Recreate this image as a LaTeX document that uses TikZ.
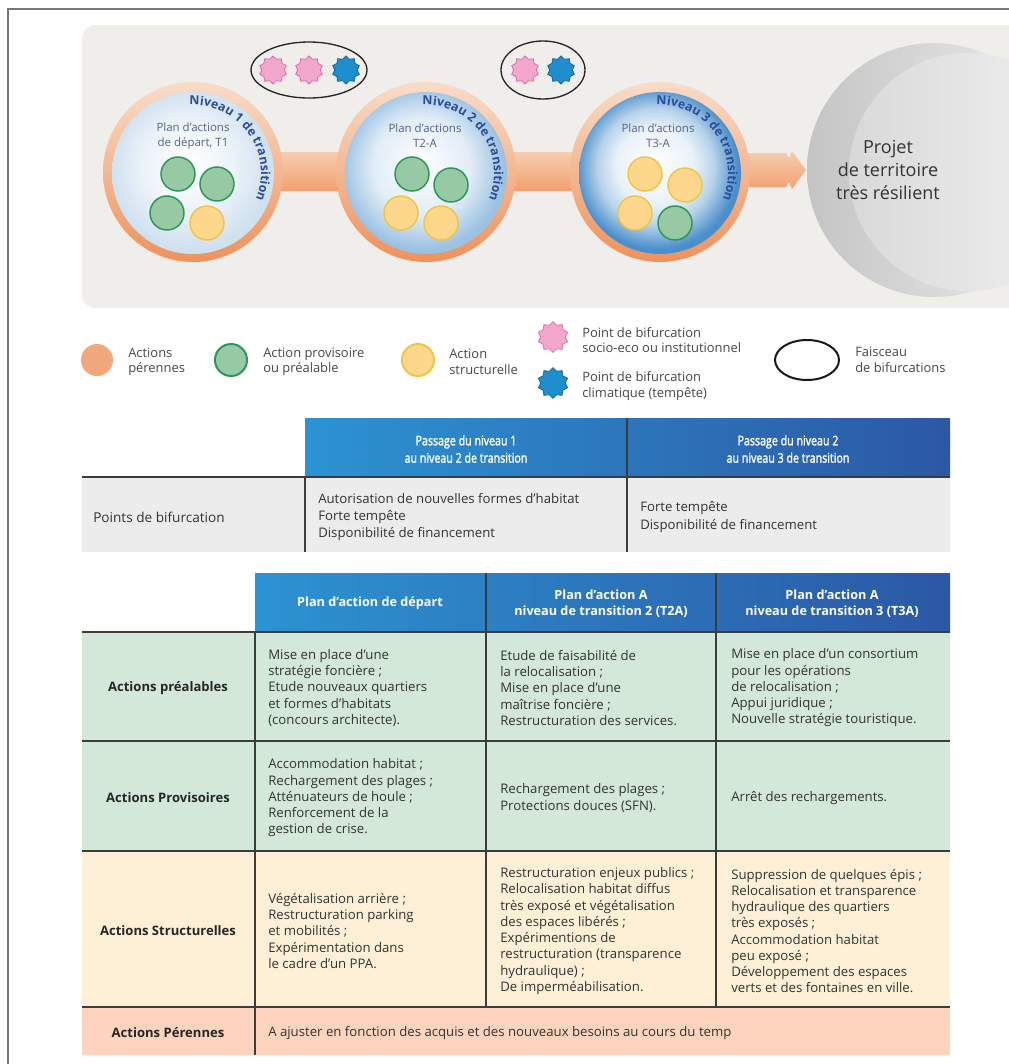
\documentclass[tikz,border=0pt]{standalone}
\usepackage{fontspec}
\setmainfont{Open Sans}
\setsansfont{Open Sans}
\newfontfamily\hdrfont{Open Sans}[FakeBold=1.6,FakeStretch=0.8]
\usetikzlibrary{shapes.geometric,decorations.text}
\definecolor{panelgray}{HTML}{EFEEEB}
\definecolor{ringT}{HTML}{F9DCC8}
\definecolor{ringB}{HTML}{EE925C}
\definecolor{barT}{HTML}{F7CDB0}
\definecolor{barB}{HTML}{F1A170}
\definecolor{lensAc}{HTML}{CFE0EF}
\definecolor{lensBc}{HTML}{9CC2E3}
\definecolor{lensCc}{HTML}{4A8FCB}
\definecolor{greenF}{HTML}{97CAA4}
\definecolor{greenL}{HTML}{2E9658}
\definecolor{yellowF}{HTML}{FDD88C}
\definecolor{yellowL}{HTML}{F0C545}
\definecolor{orangeF}{HTML}{F3A77C}
\definecolor{pinkF}{HTML}{F2A7CD}
\definecolor{pinkL}{HTML}{DE6FA6}
\definecolor{blueF}{HTML}{1F8ECC}
\definecolor{blueL}{HTML}{17689F}
\definecolor{navy}{HTML}{2A4C9A}
\definecolor{slate}{HTML}{55648A}
\definecolor{hdrL}{HTML}{2C93D2}
\definecolor{hdrR}{HTML}{2C58A5}
\definecolor{rowgray}{HTML}{ECECEC}
\definecolor{rowgreen}{HTML}{D4E8DA}
\definecolor{rowcream}{HTML}{FDF0D7}
\definecolor{rowsalmon}{HTML}{FDD5BF}
\definecolor{tline}{HTML}{3C3C3C}
\definecolor{txt}{HTML}{333333}
\definecolor{bigA}{HTML}{C4C4C4}
\definecolor{bigB}{HTML}{EEEEEE}
\definecolor{bigC}{HTML}{D9D9D9}
\definecolor{bigD}{HTML}{F2F2F2}
\definecolor{framegray}{HTML}{777777}
\pgfdeclareradialshading{lensA}{\pgfpoint{-2bp}{3bp}}{color(0bp)=(white); color(14bp)=(lensAc!40!white); color(25bp)=(lensAc); color(50bp)=(lensAc)}
\pgfdeclareradialshading{lensB}{\pgfpoint{-2bp}{3bp}}{color(0bp)=(white); color(15bp)=(lensBc!30!white); color(25bp)=(lensBc); color(50bp)=(lensBc)}
\pgfdeclareradialshading{lensC}{\pgfpoint{-2bp}{3bp}}{color(0bp)=(white); color(12bp)=(lensCc!12!white); color(18bp)=(lensCc!40!white); color(25bp)=(lensCc); color(50bp)=(lensCc)}
\newcommand\bodyfont{\fontsize{9.9}{12.2}\selectfont}
\newcommand\legfont{\fontsize{9.7}{11.6}\selectfont}
\begin{document}
\begin{tikzpicture}[x=0.75pt,y=-0.75pt,
  gcirc/.style={fill=greenF,draw=greenL,line width=1.1pt},
  ycirc/.style={fill=yellowF,draw=yellowL,line width=1.1pt},
  starP/.style={star,star points=10,star point ratio=1.25,minimum size=21pt,inner sep=0pt,fill=pinkF,draw=pinkL,line width=0.6pt},
  starB/.style={star,star points=10,star point ratio=1.25,minimum size=21pt,inner sep=0pt,fill=blueF,draw=blueL,line width=0.6pt},
  bundle/.style={draw=black!85,line width=1pt},
  ring/.style={top color=ringT,bottom color=ringB},
  bar/.style={top color=barT,bottom color=barB},
  lenstxt/.style={font=\fontsize{8.6}{11.2}\selectfont,text=slate,align=center,inner sep=0pt},
  legtxt/.style={font=\legfont,text=txt!90,align=left,anchor=west,inner sep=0pt},
  cell/.style={font=\bodyfont,text=txt,align=left,anchor=west,inner sep=0pt},
  rowlab/.style={font=\fontsize{9.8}{12.2}\selectfont\bfseries,text=black!85,align=center,inner sep=0pt},
  hdr/.style={font=\fontsize{9.5}{12.2}\selectfont\bfseries,text=white,align=center,inner sep=0pt},
  hdrone/.style={font=\hdrfont\fontsize{10}{13}\selectfont,text=white,align=center,inner sep=0pt},
  tl/.style={draw=tline,line width=1.1pt},
  niv/.style={decorate,decoration={text along path,text color=navy,text align=left}}
]
\useasboundingbox (0,0) rectangle (1009,1064);
\fill[white] (0,0) rectangle (1009,1064);
\draw[framegray,line width=1.2pt] (8,1070) -- (8,9) -- (1020,9);

% ---------- top panel ----------
\fill[panelgray,rounded corners=10] (82,25) rectangle (1030,308);
\begin{scope}
  \clip[rounded corners=10] (82,25) rectangle (1030,308);
  \shade[left color=bigA,right color=bigB] (934,170) circle (127);
  \shade[left color=bigC,right color=bigD] (968,172) circle (119);
\end{scope}

% connector bars and arrow
\shade[bar] (265,152) rectangle (350,190);
\shade[bar] (500,152) rectangle (585,190);
\shade[bar] (735,153) -- (786,153) -- (789,158) -- (792,151) -- (806,170) -- (792,189) -- (789,182) -- (786,187) -- (735,187) -- cycle;

% rings and lenses
\shade[ring] (193,172) circle (90);
\shade[ring] (426,172) circle (90);
\shade[ring] (660,172) circle (90);
\shade[shading=lensA] (193,173) circle (81);
\shade[shading=lensB] (426,173) circle (81);
\shade[shading=lensC] (660,173) circle (81);

% level texts along arcs
\path[niv,decoration={text={|\bfseries\fontsize{9.3}{11}\selectfont|Niveau 1 de transition}}]
  (193,173) ++(-93:68) arc[start angle=-93,end angle=40,radius=68];
\path[niv,decoration={text={|\bfseries\fontsize{9.3}{11}\selectfont|Niveau 2 de transition}}]
  (426,173) ++(-93:68) arc[start angle=-93,end angle=40,radius=68];
\path[niv,decoration={text={|\bfseries\fontsize{9.3}{11}\selectfont|Niveau 3 de transition}}]
  (660,173) ++(-93:68) arc[start angle=-93,end angle=40,radius=68];

% lens labels
\node[lenstxt] (plan1) at (193,136) {Plan d’actions\\de départ, T1};
\node[lenstxt] (plan2) at (425,136) {Plan d’actions\\T2-A};
\node[lenstxt] (plan3) at (658,136) {Plan d’actions\\T3-A};

% small action circles
\draw[gcirc] (178,174) circle (17);
\draw[gcirc] (217,184) circle (17);
\draw[gcirc] (167,213) circle (17);
\draw[ycirc] (207,223) circle (17);
\draw[gcirc] (412,174) circle (17);
\draw[gcirc] (451,185) circle (17);
\draw[ycirc] (401,213) circle (17);
\draw[ycirc] (441,223) circle (17);
\draw[ycirc] (645,174) circle (17);
\draw[ycirc] (685,185) circle (17);
\draw[ycirc] (635,213) circle (17);
\draw[gcirc] (675,223) circle (17);

% bundles
\draw[bundle] (309,70) ellipse [x radius=58,y radius=28];
\node[starP] (s1) at (273,70) {};
\node[starP] (s2) at (309,70) {};
\node[starB] (s3) at (346,70) {};
\draw[bundle] (543,70) ellipse [x radius=42,y radius=29];
\node[starP] (s4) at (525,70) {};
\node[starB] (s5) at (561,70) {};

% final project
\node[font=\fontsize{13.5}{17.5}\selectfont,text=txt,align=center,inner sep=0pt] (projet) at (888,170) {Projet\\de territoire\\très résilient};

% ---------- legend ----------
\fill[orangeF] (97,360) circle (16);
\node[legtxt] (lg1) at (128,362) {Actions\\pérennes};
\draw[gcirc,line width=1.5pt] (231,360) circle (16);
\node[legtxt] (lg2) at (263,362) {Action provisoire\\ou préalable};
\draw[ycirc,line width=1.5pt] (418,360) circle (16);
\node[legtxt] (lg3) at (449,362) {Action\\structurelle};
\node[starP,minimum size=23pt] (lgs1) at (553,337) {};
\node[legtxt] (lg4) at (582,340) {Point de bifurcation\\socio-eco ou institutionnel};
\node[starB,minimum size=23pt] (lgs2) at (553,383) {};
\node[legtxt] (lg5) at (582,386) {Point de bifurcation\\climatique (tempête)};
\draw[draw=black!90,line width=1.5pt] (807,360) ellipse [x radius=32,y radius=20];
\node[legtxt] (lg6) at (855,360) {Faisceau\\de bifurcations};

% ---------- table 1 ----------
\shade[left color=hdrL,right color=hdrR] (305,418) rectangle (950,477);
\fill[rowgray] (82,477) rectangle (950,552);
\draw[tl] (82,477) -- (950,477);
\draw[tl] (305,477) -- (305,552);
\draw[tl] (627,418) -- (627,552);
\node[hdrone] (h11) at (466,449) {Passage du niveau 1\\au niveau 2 de transition};
\node[hdrone] (h12) at (788,449) {Passage du niveau 2\\au niveau 3 de transition};
\node[cell,font=\fontsize{10.2}{12.8}\selectfont] (pb) at (93,517) {Points de bifurcation};
\node[cell,font=\fontsize{9.9}{12.8}\selectfont] (pb1) at (318,517) {Autorisation de nouvelles formes d’habitat\\Forte tempête\\Disponibilité de financement};
\node[cell,font=\fontsize{9.9}{12.8}\selectfont] (pb2) at (640,517) {Forte tempête\\Disponibilité de financement};

% ---------- table 2 ----------
\shade[left color=hdrL,right color=hdrR] (255,573) rectangle (950,632);
\fill[rowgreen] (82,632) rectangle (950,851);
\fill[rowcream] (82,851) rectangle (950,1007);
\fill[rowsalmon] (82,1007) rectangle (950,1055);
\draw[tl] (82,632) -- (950,632);
\draw[tl] (82,741) -- (950,741);
\draw[tl] (82,851) -- (950,851);
\draw[tl] (82,1007) -- (950,1007);
\draw[tl] (255,632) -- (255,1055);
\draw[tl] (486,573) -- (486,1007);
\draw[tl] (716,573) -- (716,1007);

\node[hdr] (h21) at (370,603) {Plan d’action de départ};
\node[hdr] (h22) at (601,604) {Plan d’action A\\niveau de transition 2 (T2A)};
\node[hdr] (h23) at (832,604) {Plan d’action A\\niveau de transition 3 (T3A)};

\node[rowlab] (r1) at (168,688) {Actions préalables};
\node[cell] (r1c1) at (268,688) {Mise en place d’une\\stratégie foncière ;\\Etude nouveaux quartiers\\et formes d’habitats\\(concours architecte).};
\node[cell] (r1c2) at (500,688) {Etude de faisabilité de\\la relocalisation ;\\Mise en place d’une\\maîtrise foncière ;\\Restructuration des services.};
\node[cell] (r1c3) at (731,688) {Mise en place d’un consortium\\pour les opérations\\de relocalisation ;\\Appui juridique ;\\Nouvelle stratégie touristique.};

\node[rowlab] (r2) at (168,798) {Actions Provisoires};
\node[cell] (r2c1) at (268,798) {Accommodation habitat ;\\Rechargement des plages ;\\Atténuateurs de houle ;\\Renforcement de la\\gestion de crise.};
\node[cell] (r2c2) at (500,798) {Rechargement des plages ;\\Protections douces (SFN).};
\node[cell] (r2c3) at (731,798) {Arrêt des rechargements.};

\node[rowlab] (r3) at (168,931) {Actions Structurelles};
\node[cell] (r3c1) at (268,931) {Végétalisation arrière ;\\Restructuration parking\\et mobilités ;\\Expérimentation dans\\le cadre d’un PPA.};
\node[cell] (r3c2) at (500,931) {Restructuration enjeux publics ;\\Relocalisation habitat diffus\\très exposé et végétalisation\\des espaces libérés ;\\Expérimentions de\\restructuration (transparence\\hydraulique) ;\\De imperméabilisation.};
\node[cell] (r3c3) at (731,931) {Suppression de quelques épis ;\\Relocalisation et transparence\\hydraulique des quartiers\\très exposés ;\\Accommodation habitat\\peu exposé ;\\Développement des espaces\\verts et des fontaines en ville.};

\node[rowlab] (r4) at (168,1033) {Actions Pérennes};
\node[cell] (r4c1) at (268,1033) {A ajuster en fonction des acquis et des nouveaux besoins au cours du temp};
\end{tikzpicture}
\end{document}
